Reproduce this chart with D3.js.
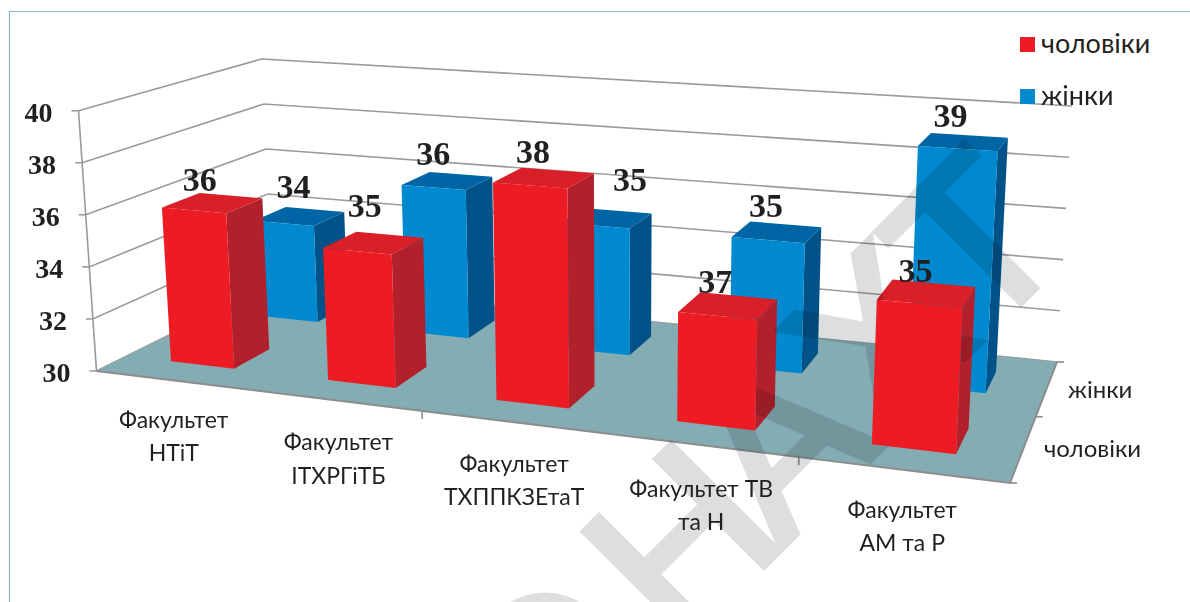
<!DOCTYPE html>
<html>
<head>
<meta charset="utf-8">
<script src="https://cdn.jsdelivr.net/npm/d3@7"></script>
<style>
  html, body { margin: 0; background: #fff; }
  svg { display: block; }
  .cat, .legend { font-family: Lato, "Noto Sans", sans-serif; fill: #231f20; }
  .num { font-family: "Liberation Serif", serif; font-weight: bold; fill: #231f20; }
</style>
</head>
<body>
<div class="svg-container"></div>
<script>
//Data
const categories = [['Факультет', 'НТіТ'], ['Факультет', 'ІТХРГіТБ'], ['Факультет', 'ТХППКЗЕтаТ'], ['Факультет ТВ', 'та Н'], ['Факультет', 'АМ та Р']];
const seriesNames = ['чоловіки', 'жінки'];
const menValues = [36, 35, 38, 33.9, 35];
const womenValues = [34, 36, 35, 35, 39];
//the printed labels, the fourth one does not agree with its bar in the source
const menLabels = ['36', '35', '38', '37', '35'];
const womenLabels = ['34', '36', '35', '35', '39'];
const valueTicks = [30, 32, 34, 36, 38, 40];

//Hand placed offsets, labels were moved by hand in the original
const menNudge = [[-13, -12], [-9, -26], [-11, -15], [-13, -13], [-11, -11]];
const womenNudge = [[-6, -18], [-14, -16], [23, -27], [-11, -15], [-13, -15]];
const catNudge = [[0, 47.5], [2, 50], [3, 50], [2, 52], [0, 48]];

const width = 1190;
const height = 602;

//Scales go to the unit cube, project() turns the cube into the picture
const xScale = d3.scaleBand().domain(d3.range(categories.length)).range([0, 1]).paddingInner(0.59).paddingOuter(0.295);
const zScale = d3.scaleBand().domain(seriesNames).range([0, 1]).paddingInner(0.6).paddingOuter(0.3);
const yScale = d3.scaleLinear().domain([30, 40]).range([0, 1]);

//unit square to quad, corners are front left, front right, back right, back left
function quadMap(p) {
    const [[x0, y0], [x1, y1], [x2, y2], [x3, y3]] = p;
    const dx1 = x1 - x2, dx2 = x3 - x2, sx = x0 - x1 + x2 - x3;
    const dy1 = y1 - y2, dy2 = y3 - y2, sy = y0 - y1 + y2 - y3;
    const det = dx1 * dy2 - dx2 * dy1;
    const g = (sx * dy2 - dx2 * sy) / det;
    const h = (dx1 * sy - sx * dy1) / det;
    return (u, v) => {
        const q = g * u + h * v + 1;
        return [
            ((x1 - x0 + g * x1) * u + (x3 - x0 + h * x3) * v + x0) / q,
            ((y1 - y0 + g * y1) * u + (y3 - y0 + h * y3) * v + y0) / q
        ];
    };
}

const floorMap = quadMap([[96.5, 371], [1010, 483], [1057, 362], [272, 284]]);
const topMap = quadMap([[78.5, 110.7], [1026, 178], [1072, 106], [262, 59]]);
//verticals all run to this point far below the chart
const vanish = [616, 7888];

function project(u, v, w) {
    const a = floorMap(u, v), b = topMap(u, v);
    const y = a[1] + (b[1] - a[1]) * w;
    const x = a[0] + (a[0] - vanish[0]) / (vanish[1] - a[1]) * (a[1] - y);
    return [x, y];
}

const line = d3.line();
const poly = pts => line(pts) + 'Z';

const svg = d3.select('.svg-container').append('svg')
    .attr('width', width)
    .attr('height', height);

//Frame of the figure
svg.append('path')
    .attr('d', `M9.5,${height}V11.5H${width}`)
    .attr('fill', 'none')
    .attr('stroke', '#8db3d3')
    .attr('stroke-width', 1.2);

//Grid on the two walls
svg.selectAll('.grid')
    .data(valueTicks)
    .enter()
    .append('path')
    .attr('class', 'grid')
    .attr('d', d => {
        const w = yScale(d);
        const p = project(0, 0, w);
        return line([[p[0] - 7, p[1]], p, project(0, 1, w), project(1, 1, w)]);
    })
    .attr('fill', 'none')
    .attr('stroke', '#9a9a9a')
    .attr('stroke-width', 1.6);

svg.append('path')
    .attr('d', line([project(0, 0, 0), project(0, 0, 1)]))
    .attr('stroke', '#9a9a9a')
    .attr('stroke-width', 1.6);

//Floor
svg.append('path')
    .attr('d', poly([project(0, 0, 0), project(1, 0, 0), project(1, 1, 0), project(0, 1, 0)]))
    .attr('fill', '#84acb3');

svg.append('path')
    .attr('d', line([project(0, 0, 0), project(1, 0, 0), project(1, 1, 0)]))
    .attr('fill', 'none')
    .attr('stroke', '#8c8c8c')
    .attr('stroke-width', 2);

//Axis ticks on the floor edges, only these two show in the source
[2, 4].forEach(i => {
    const p = project(i / categories.length, 0, 0);
    svg.append('line').attr('x1', p[0]).attr('x2', p[0]).attr('y1', p[1]).attr('y2', p[1] + 8)
        .attr('stroke', '#8c8c8c').attr('stroke-width', 1.6);
});
[0, 0.5, 1].forEach(v => {
    const p = project(1, v, 0);
    svg.append('line').attr('x1', p[0]).attr('x2', p[0] + 7).attr('y1', p[1]).attr('y2', p[1])
        .attr('stroke', '#8c8c8c').attr('stroke-width', 1.6);
});

//Bars
function faces(i, name, value) {
    const u0 = xScale(i), u1 = u0 + xScale.bandwidth();
    const v0 = zScale(name), v1 = v0 + zScale.bandwidth();
    const w = yScale(value);
    return {
        front: [project(u0, v0, 0), project(u1, v0, 0), project(u1, v0, w), project(u0, v0, w)],
        side: [project(u1, v0, 0), project(u1, v1, 0), project(u1, v1, w), project(u1, v0, w)],
        top: [project(u0, v0, w), project(u1, v0, w), project(u1, v1, w), project(u0, v1, w)],
        mid: project((u0 + u1) / 2, (v0 + v1) / 2, w)
    };
}

const womenFaces = womenValues.map((d, i) => faces(i, 'жінки', d));
const menFaces = menValues.map((d, i) => faces(i, 'чоловіки', d));

function drawFace(data, key, fill) {
    svg.append('g')
        .selectAll('path')
        .data(data)
        .enter()
        .append('path')
        .attr('d', d => poly(d[key]))
        .attr('fill', fill);
}

//one bar at a time so the neighbours overlap properly
womenFaces.forEach(f => {
    drawFace([f], 'side', '#005288');
    drawFace([f], 'top', '#0065a4');
    drawFace([f], 'front', '#0089cf');
});
menFaces.forEach(f => {
    drawFace([f], 'side', '#b2202c');
    drawFace([f], 'top', '#d92028');
});

//Watermark sits over everything but the red fronts
const stamp = svg.append('g').style('mix-blend-mode', 'multiply');
[['О', 601, 729], ['Н', 735, 595], ['А', 833, 497], ['Х', 932, 391], ['Т', 1028, 295]].forEach(d => {
    stamp.append('text')
        .attr('transform', `translate(${d[1]},${d[2]}) rotate(-45)`)
        .attr('text-anchor', 'middle')
        .attr('font-family', 'Liberation Sans')
        .attr('font-size', 220)
        .attr('fill', '#dcdedf')
        .attr('stroke', '#dcdedf')
        .attr('stroke-width', 7)
        .text(d[0]);
});

menFaces.forEach(f => drawFace([f], 'front', '#ed1c24'));

//Value labels on the bars
function drawLabels(data, labels, nudge) {
    svg.append('g')
        .selectAll('text')
        .data(data)
        .enter()
        .append('text')
        .attr('class', 'num')
        .attr('x', (d, i) => d.mid[0] + nudge[i][0])
        .attr('y', (d, i) => d.mid[1] + nudge[i][1])
        .attr('text-anchor', 'middle')
        .attr('font-size', 34)
        .text((d, i) => labels[i]);
}
drawLabels(womenFaces, womenLabels, womenNudge);
drawLabels(menFaces, menLabels, menNudge);

//Value axis labels
svg.selectAll('.ylab')
    .data(valueTicks)
    .enter()
    .append('text')
    .attr('class', 'num ylab')
    .attr('x', d => project(0, 0, yScale(d))[0] - 26)
    .attr('y', d => project(0, 0, yScale(d))[1] + 11)
    .attr('text-anchor', 'end')
    .attr('font-size', 28)
    .text(d => d);

//Category labels
const catLabels = svg.selectAll('.catlab')
    .data(categories)
    .enter()
    .append('text')
    .attr('class', 'cat catlab')
    .attr('text-anchor', 'middle')
    .attr('font-size', 23)
    .attr('transform', (d, i) => {
        const p = project(xScale(i) + xScale.bandwidth() / 2, 0, 0);
        return `translate(${p[0] + catNudge[i][0]},${p[1] + catNudge[i][1]})`;
    });
catLabels.selectAll('tspan')
    .data(d => d)
    .enter()
    .append('tspan')
    .attr('x', 0)
    .attr('y', (d, i) => i * 33.5)
    .text(d => d);

//Depth axis labels
svg.append('text').attr('class', 'cat').attr('x', 1068).attr('y', 398).attr('font-size', 24).text(seriesNames[1]);
svg.append('text').attr('class', 'cat').attr('x', 1044).attr('y', 457).attr('font-size', 24).text(seriesNames[0]);

//Legend
const legendColor = d3.scaleOrdinal().domain(seriesNames).range(['#ed1c24', '#0089cf']);
const legendY = d3.scalePoint().domain(seriesNames).range([37, 89]);
const legend = svg.selectAll('.lg')
    .data(seriesNames)
    .enter()
    .append('g')
    .attr('class', 'lg')
    .attr('transform', d => `translate(1020,${legendY(d)})`);
legend.append('rect').attr('width', 15).attr('height', 15).attr('fill', d => legendColor(d));
legend.append('text').attr('class', 'legend').attr('x', 21).attr('y', 16).attr('font-size', 27).text(d => d);
</script>
</body>
</html>
